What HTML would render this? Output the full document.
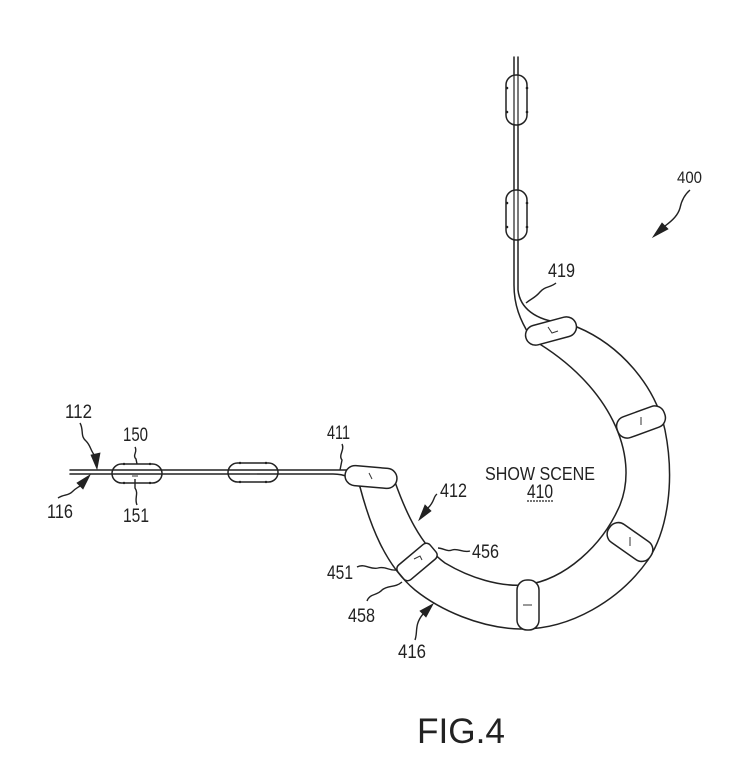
<!DOCTYPE html>
<html>
<head>
<meta charset="utf-8">
<style>
  html, body { margin:0; padding:0; background:#fff; }
  svg { display:block; }
  text { font-family: "Liberation Sans", Arial, sans-serif; fill:#222; }
</style>
</head>
<body>
<svg width="747" height="768" viewBox="0 0 747 768" xmlns="http://www.w3.org/2000/svg">
  <rect width="747" height="768" fill="#fff"/>
  <g fill="none" stroke="#222" stroke-width="1.5" stroke-linecap="round">
    <!-- vertical top track -->
    <path d="M514,57 L514,285 C514,305 520,320 530,336"/>
    <path d="M518,57 L518,290 C520,308 535,320 562,323"/>
    <!-- horizontal left track -->
    <path d="M70,470 L352,470"/>
    <path d="M70,474 L333,474 C345,474 353,478 360,487"/>
    <!-- outer edge of band -->
    <path d="M577,327 C620,345 655,385 665,430 C675,480 668,530 648,560 C620,600 570,630 520,629 C480,628 440,610 415,590 C385,565 370,525 360,487"/>
    <!-- inner edge of band -->
    <path d="M395,482 C405,510 420,545 445,563 C470,578 500,587 525,585 C565,580 603,545 620,505 C640,455 610,385 533,340"/>
  </g>

  <!-- vehicles -->
  <g fill="#fff" stroke="#222" stroke-width="1.5">
    <rect x="506" y="75" width="21" height="50" rx="10"/>
    <rect x="506" y="190" width="21" height="50" rx="10"/>
    <rect x="112" y="464" width="50" height="19" rx="9.5" fill="none"/>
    <rect x="228" y="463" width="50" height="19" rx="9.5" fill="none"/>
    <rect x="-26" y="-10" width="52" height="20" rx="10" transform="translate(371,477) rotate(5)"/>
    <rect x="-26" y="-10" width="52" height="20" rx="10" transform="translate(551,331) rotate(-15)"/>
    <rect x="-25" y="-11" width="50" height="22" rx="10" transform="translate(641,422) rotate(-20)"/>
    <rect x="-25" y="-11" width="50" height="22" rx="10" transform="translate(630,542) rotate(35)"/>
    <rect x="-25" y="-11" width="50" height="22" rx="10" transform="translate(528,605) rotate(90)"/>
    <rect x="-21" y="-9.5" width="42" height="19" rx="5" transform="translate(417,562) rotate(-40)"/>
  </g>
  <!-- vertical track lines through top vehicles -->
  <g stroke="#222" stroke-width="1.2">
    <line x1="514" y1="75" x2="514" y2="125"/>
    <line x1="518" y1="75" x2="518" y2="125"/>
    <line x1="514" y1="190" x2="514" y2="240"/>
    <line x1="518" y1="190" x2="518" y2="240"/>
  </g>
  <!-- small wheel nubs -->
  <g fill="#222">
    <circle cx="507" cy="88" r="1.3"/><circle cx="507" cy="112" r="1.3"/>
    <circle cx="527" cy="88" r="1.3"/><circle cx="527" cy="112" r="1.3"/>
    <circle cx="507" cy="203" r="1.3"/><circle cx="507" cy="227" r="1.3"/>
    <circle cx="527" cy="203" r="1.3"/><circle cx="527" cy="227" r="1.3"/>
    <circle cx="124" cy="464" r="1.2"/><circle cx="150" cy="464" r="1.2"/>
    <circle cx="124" cy="483" r="1.2"/><circle cx="150" cy="483" r="1.2"/>
    <circle cx="240" cy="463" r="1.2"/><circle cx="266" cy="463" r="1.2"/>
    <circle cx="240" cy="482" r="1.2"/><circle cx="266" cy="482" r="1.2"/>
  </g>
  <!-- small marks in vehicles -->
  <g fill="none" stroke="#333" stroke-width="1">
    <path d="M548,327 l4,6 l6,-2"/>
    <path d="M641,417 l0,8"/>
    <path d="M630,537 l0,9"/>
    <path d="M523,605 l9,0"/>
    <path d="M414,559 l6,-3 l2,4"/>
    <path d="M369,473 l3,6"/>
    <path d="M250,474 l7,0"/>
    <path d="M132,476 l6,0"/>
  </g>

  <!-- leaders -->
  <g fill="none" stroke="#222" stroke-width="1.4">
    <path d="M80,423 C84,430 80,436 86,441 C91,446 90,450 95,456"/>
    <path d="M58,498 C64,494 68,496 72,492 C76,488 77,488 80,486"/>
    <path d="M135,447 C138,452 132,455 136,459 L137,464"/>
    <path d="M137,505 C134,498 139,494 135,488 L135,479"/>
    <path d="M342,444 C345,450 338,455 342,460 L340,470"/>
    <path d="M437,494 C433,497 435,501 428,508"/>
    <path d="M470,551 C463,553 458,548 452,550 C447,552 443,548 438,548"/>
    <path d="M357,567 C365,563 370,570 378,568 C385,566 390,571 396,570"/>
    <path d="M367,601 C370,593 377,596 382,590 C388,585 395,588 402,582"/>
    <path d="M415,640 C418,632 414,625 423,614"/>
    <path d="M556,283 C550,288 545,286 540,292 C535,298 532,298 526,303"/>
    <path d="M690,190 C683,196 681,203 680,208 C678,215 673,220 665,226"/>
  </g>
  <g fill="#222" stroke="#222" stroke-width="0.8">
    <polygon points="97,469 91,455 100,453"/>
    <polygon points="90,475 83,489 77,483"/>
    <polygon points="419,520 431,511 425,505"/>
    <polygon points="433,604 426,617 420,611"/>
    <polygon points="653,237 668,229 662,223"/>
  </g>

  <!-- labels -->
  <g font-size="19" lengthAdjust="spacingAndGlyphs">
    <text x="65" y="418" textLength="27" lengthAdjust="spacingAndGlyphs">112</text>
    <text x="47" y="518" textLength="26" lengthAdjust="spacingAndGlyphs">116</text>
    <text x="123" y="441" textLength="25" lengthAdjust="spacingAndGlyphs">150</text>
    <text x="123" y="522" textLength="26" lengthAdjust="spacingAndGlyphs">151</text>
    <text x="327" y="439" textLength="23" lengthAdjust="spacingAndGlyphs">411</text>
    <text x="440" y="497" textLength="27" lengthAdjust="spacingAndGlyphs">412</text>
    <text x="472" y="558" textLength="27" lengthAdjust="spacingAndGlyphs">456</text>
    <text x="327" y="579" textLength="26" lengthAdjust="spacingAndGlyphs">451</text>
    <text x="348" y="622" textLength="27" lengthAdjust="spacingAndGlyphs">458</text>
    <text x="398" y="658" textLength="28" lengthAdjust="spacingAndGlyphs">416</text>
    <text x="548" y="277" textLength="27" lengthAdjust="spacingAndGlyphs">419</text>
    <text x="677" y="183" font-size="17" textLength="25" lengthAdjust="spacingAndGlyphs">400</text>
    <text x="485" y="480" font-size="18.5" textLength="110" lengthAdjust="spacingAndGlyphs">SHOW SCENE</text>
    <text x="527" y="498" textLength="26" lengthAdjust="spacingAndGlyphs">410</text>
  </g>
  <line x1="527" y1="501" x2="554" y2="501" stroke="#222" stroke-width="1.3" stroke-dasharray="2,1"/>
  <text x="417" y="743" font-size="35" textLength="88" lengthAdjust="spacingAndGlyphs">FIG.4</text>
</svg>
</body>
</html>
